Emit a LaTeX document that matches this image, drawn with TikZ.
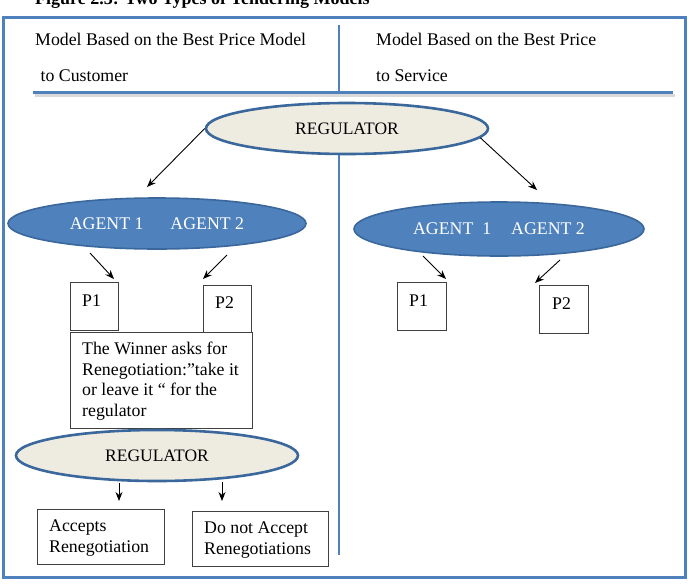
\documentclass[tikz,border=0pt]{standalone}
\usepackage{fontspec}
\setmainfont{Liberation Serif}
\usetikzlibrary{shapes.geometric,arrows.meta}
\definecolor{frameblue}{HTML}{4F81BD}
\definecolor{ellblue}{HTML}{4F81BD}
\definecolor{ellborder}{HTML}{3A679C}
\definecolor{regfill}{HTML}{EEECE1}
\begin{document}
\begin{tikzpicture}[x=1pt,y=-1pt,
  txt/.style={inner sep=0pt, font=\fontsize{17.8}{20.8}\selectfont},
  regell/.style={ellipse, draw=ellborder, line width=2.6pt, fill=regfill, inner sep=0pt, font=\fontsize{17.5}{20}\selectfont},
  agell/.style={ellipse, draw=ellborder, line width=1.6pt, fill=ellblue, text=white, inner sep=0pt, font=\fontsize{17.8}{20}\selectfont},
  plainbox/.style={draw=black!75, line width=1.1pt, inner sep=0pt, anchor=north west},
  arr/.style={-{Stealth[length=9pt,width=7pt]}, line width=0.9pt, black},
  bluerule/.style={frameblue, line width=3pt},
]
\useasboundingbox (0,0) rectangle (688,587);
\clip (0,0) rectangle (688,587);
% title (cut at the top)
\node[txt, anchor=base west, font=\fontsize{18}{20}\selectfont\bfseries] (title) at (35,4) {Figure 2.3: Two Types of Tendering Models};
% outer frame
\draw[bluerule] (3,17) rectangle (685,577);
% header
\node[txt, anchor=base west] (h1a) at (35,45) {Model Based on the Best Price Model};
\node[txt, anchor=base west] (h1b) at (36,81) {\ to Customer};
\node[txt, anchor=base west] (h2a) at (376,45) {Model Based on the Best Price};
\node[txt, anchor=base west] (h2b) at (376,81) {to Service};
\draw[black!25, line width=3pt, opacity=0.6] (35,95.5) -- (675,95.5);
\draw[bluerule] (33,92) -- (673,92);
\draw[frameblue, line width=2.5pt] (339,25) -- (339,92);
\draw[frameblue, line width=2.5pt] (339,150) -- (339,555);
% top regulator
\node[regell, minimum width=282pt, minimum height=51pt] (reg1) at (347,128.5) {REGULATOR};
% agents
\node[agell, minimum width=298pt, minimum height=51pt] (agL) at (157,223.5) {AGENT 1\hspace{27pt}AGENT 2};
\node[agell, minimum width=290pt, minimum height=54pt] (agR) at (499,229) {AGENT\ \ 1\hspace{20pt}AGENT 2};
% arrows regulator -> agents
\coordinate (eL) at (147,187);
\coordinate (eR) at (537,190);
\draw[arr] (reg1.west) -- (eL);
\draw[arr] (reg1.-4) -- (eR);
% left P boxes
\node[plainbox, minimum width=48pt, minimum height=48pt] (p1L) at (70,282) {};
\node[txt, anchor=base west] (p1Lt) at (82,306) {P1};
\node[plainbox, minimum width=48pt, minimum height=47pt] (p2L) at (203,285) {};
\node[txt, anchor=base west] (p2Lt) at (215,308) {P2};
% winner box
\node[plainbox, minimum width=182pt, minimum height=96pt] (win) at (70,332) {};
\node[txt, anchor=north west, align=left] (wint) at (82,341.5) {The Winner asks for\\Renegotiation:”take it\\or leave it “ for the\\regulator};
% right P boxes
\node[plainbox, minimum width=49pt, minimum height=48pt] (p1R) at (397,282) {};
\node[txt, anchor=base west] (p1Rt) at (409,306) {P1};
\node[plainbox, minimum width=49pt, minimum height=48pt] (p2R) at (539,285) {};
\node[txt, anchor=base west] (p2Rt) at (552,309) {P2};
% agent -> P arrows
\coordinate (sL1) at (90,253); \coordinate (tL1) at (114,279);
\coordinate (sL2) at (227,255); \coordinate (tL2) at (203,279);
\coordinate (sR1) at (423,256); \coordinate (tR1) at (446,279);
\coordinate (sR2) at (560,260); \coordinate (tR2) at (535,283);
\draw[arr] (sL1) -- (tL1);
\draw[arr] (sL2) -- (tL2);
\draw[arr] (sR1) -- (tR1);
\draw[arr] (sR2) -- (tR2);
% bottom regulator
\node[regell, minimum width=282pt, minimum height=51pt] (reg2) at (157,455.5) {REGULATOR};
% result boxes
\node[plainbox, minimum width=127pt, minimum height=55pt] (acc) at (37,509) {};
\node[txt, anchor=north west, align=left] (acct) at (49,520) {Accepts\\Renegotiation};
\node[plainbox, minimum width=136pt, minimum height=55pt] (dna) at (192,511) {};
\node[txt, anchor=north west, align=left] (dnat) at (204,522) {Do not Accept\\Renegotiations};
\coordinate (sA) at (119,483); \coordinate (tA) at (119,501);
\coordinate (sB) at (222,482); \coordinate (tB) at (222,501);
\draw[arr] (sA) -- (tA);
\draw[arr] (sB) -- (tB);
\end{tikzpicture}
\end{document}
